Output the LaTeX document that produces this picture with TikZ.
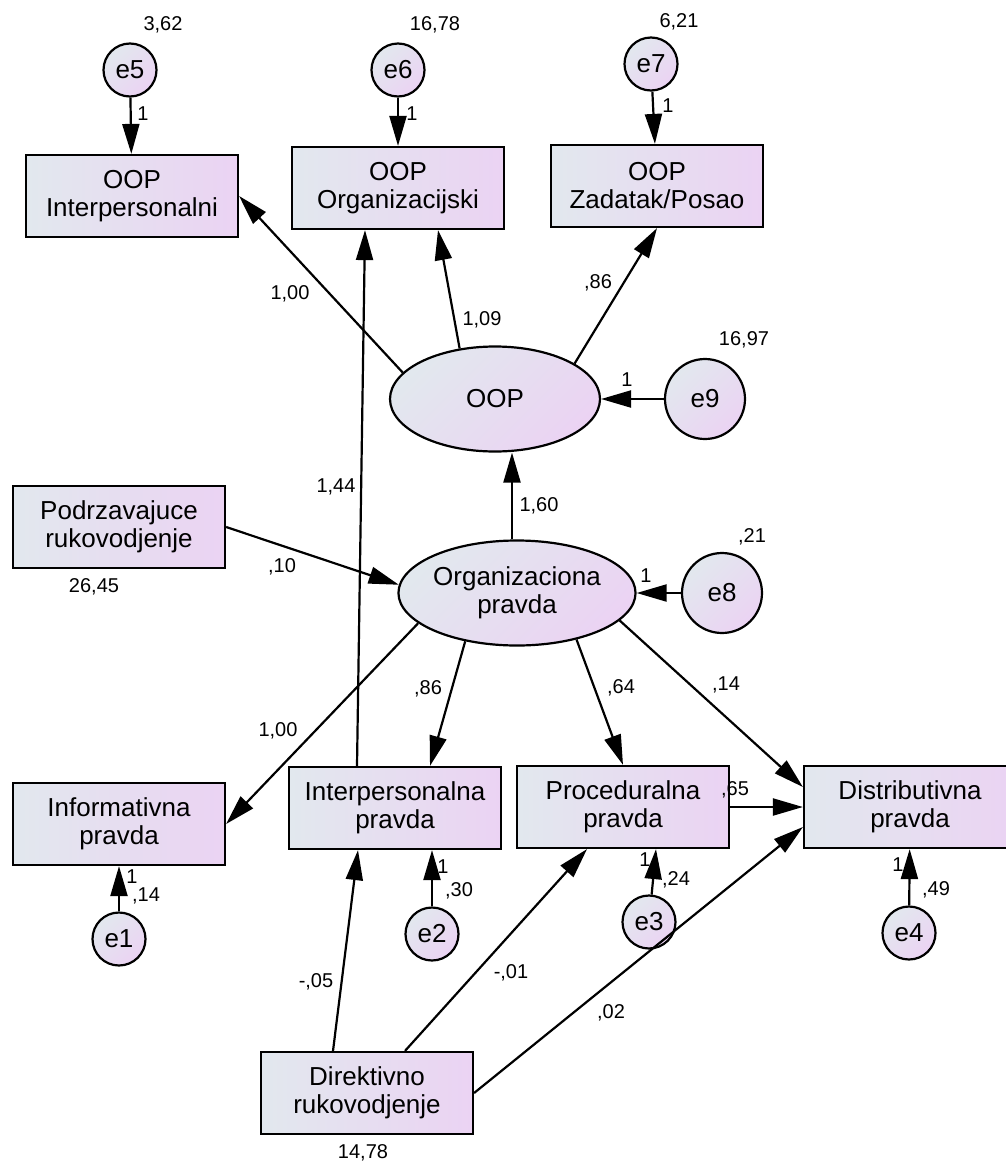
\documentclass[tikz,border=0pt]{standalone}
\usepackage{fontspec}
\setmainfont{Liberation Sans}
\usepackage{tikz}
\usetikzlibrary{shapes}
\usetikzlibrary{arrows.meta}
\definecolor{shadeL}{RGB}{226,232,238}
\definecolor{shadeR}{RGB}{235,211,243}
\tikzstyle{obs}=[rectangle,draw=black,left color=shadeL,right color=shadeR,inner sep=0mm,minimum width=212pt,minimum height=82pt,align=center,font=\fontsize{26}{28}\selectfont]
\tikzstyle{LV}=[ellipse,draw=black,top color=shadeL,bottom color=shadeR,shading angle=45,inner sep=0mm,minimum width=210pt,minimum height=105pt,align=center,font=\fontsize{26}{28}\selectfont]
\tikzstyle{err}=[circle,draw=black,top color=shadeL,bottom color=shadeR,shading angle=45,inner sep=0mm,minimum size=53pt,font=\fontsize{26}{28}\selectfont]
\tikzstyle{bigerr}=[err,minimum size=80pt]
\tikzstyle{num}=[inner sep=0mm,font=\fontsize{20}{22}\selectfont]
\tikzstyle{arrow}=[-{Triangle[length=30pt,width=17pt]}]
\tikzset{every picture/.style={
    line width=2.2pt
  }
}

\begin{document}
\begin{tikzpicture}[x=1pt,y=-1pt]
      \useasboundingbox (0,0) rectangle (1005,1165);
      \node[err] at (130,70) (e5) {e5};
      \node[err] at (398,70) (e6) {e6};
      \node[err] at (651,64) (e7) {e7};
      \node[obs] at (132,196) (oopint) {OOP\\Interpersonalni};
      \node[obs] at (398,188) (oporg) {OOP\\Organizacijski};
      \node[obs] at (657,186) (opzad) {OOP\\Zadatak/Posao};
      \node[LV] at (495,399) (oop) {OOP};
      \node[bigerr] at (705,399) (e9) {e9};
      \node[obs] at (119,527) (pod) {Podrzavajuce\\rukovodjenje};
      \node[LV] at (517,593) (org) {Organizaciona\\pravda};
      \node[bigerr] at (722,593) (e8) {e8};
      \node[obs] at (119,824) (info) {Informativna\\pravda};
      \node[obs] at (395,808) (interp) {Interpersonalna\\pravda};
      \node[obs] at (623,807) (proc) {Proceduralna\\pravda};
      \node[obs] at (910,807) (dist) {Distributivna\\pravda};
      \node[err] at (119,939) (e1) {e1};
      \node[err] at (432,934) (e2) {e2};
      \node[err] at (649,922) (e3) {e3};
      \node[err] at (909,933) (e4) {e4};
      \node[obs] at (367,1093) (dir) {Direktivno\\rukovodjenje};
      \draw[arrow] (e5) -- (oopint);
      \draw[arrow] (e6) -- (oporg);
      \draw[arrow] (e7) -- (opzad);
      \draw[arrow] (oop.164) -- (oopint.east);
      \draw[arrow] (oop.125) -- ([xshift=40pt]oporg.south);
      \draw[arrow] (oop.24) -- (opzad.south);
      \draw[arrow] (e9) -- (oop);
      \draw[arrow] ([xshift=-38pt]interp.north) -- ([xshift=-33pt]oporg.south);
      \draw[arrow] ([xshift=-5pt]org.north) -- ([xshift=17pt]oop.south);
      \draw[arrow] (pod.east) -- (org.176);
      \draw[arrow] (e8) -- (org);
      \draw[arrow] (org.197) -- (info.east);
      \draw[arrow] (org.223) -- ([xshift=35pt]interp.north);
      \draw[arrow] (org.322) -- (proc.north);
      \draw[arrow] (org.345) -- ([yshift=20pt]dist.west);
      \draw[arrow] (proc) -- (dist);
      \draw[arrow] (e1) -- (info);
      \draw[arrow] (e2) -- ([xshift=37pt]interp.south);
      \draw[arrow] (e3) -- ([xshift=33pt]proc.south);
      \draw[arrow] (e4) -- (dist);
      \draw[arrow] ([xshift=-34pt]dir.north) -- ([xshift=-37pt]interp.south);
      \draw[arrow] ([xshift=38pt]dir.north) -- ([xshift=-36pt]proc.south);
      \draw[arrow] (dir.east) -- ([yshift=-20pt]dist.west);
      \node[num] at (163,25) (ve5) {3,62};
      \node[num] at (435,25) (ve6) {16,78};
      \node[num] at (679,22) (ve7) {6,21};
      \node[num] at (143,114) (fe5) {1};
      \node[num] at (412,114) (fe6) {1};
      \node[num] at (668,106) (fe7) {1};
      \node[num] at (290,294) (woopint) {1,00};
      \node[num] at (482,320) (woporg) {1,09};
      \node[num] at (598,283) (wopzad) {,86};
      \node[num] at (744,340) (ve9) {16,97};
      \node[num] at (627,380) (fe9) {1};
      \node[num] at (336,487) (winterp) {1,44};
      \node[num] at (539,506) (woop) {1,60};
      \node[num] at (282,567) (wpod) {,10};
      \node[num] at (94,587) (vpod) {26,45};
      \node[num] at (752,537) (ve8) {,21};
      \node[num] at (646,576) (fe8) {1};
      \node[num] at (278,731) (winfo) {1,00};
      \node[num] at (428,689) (worgint) {,86};
      \node[num] at (621,688) (wproc) {,64};
      \node[num] at (726,685) (wdist) {,14};
      \node[num] at (735,790) (wpd) {,65};
      \node[num] at (132,877) (fe1) {1};
      \node[num] at (146,896) (ve1) {,14};
      \node[num] at (443,867) (fe2) {1};
      \node[num] at (459,891) (ve2) {,30};
      \node[num] at (645,860) (fe3) {1};
      \node[num] at (676,880) (ve3) {,24};
      \node[num] at (898,865) (fe4) {1};
      \node[num] at (936,890) (ve4) {,49};
      \node[num] at (316,982) (wdint) {-,05};
      \node[num] at (511,973) (wdproc) {-,01};
      \node[num] at (611,1013) (wddist) {,02};
      \node[num] at (363,1153) (vdir) {14,78};
    \end{tikzpicture}
\end{document}
